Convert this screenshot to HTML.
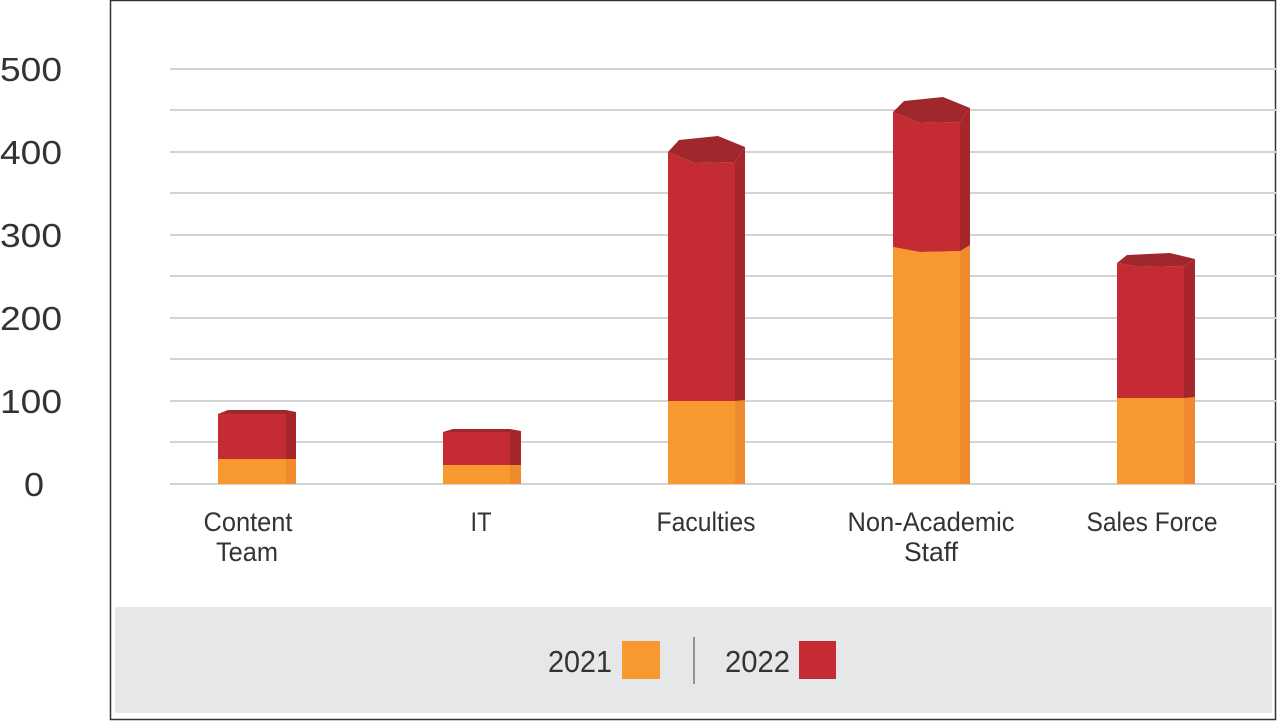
<!DOCTYPE html>
<html><head><meta charset="utf-8"><style>
html,body{margin:0;padding:0;background:#fff;}
svg{display:block;}
text{font-family:"Liberation Sans",sans-serif;fill:#333;}
</style></head><body>
<svg width="1277" height="723" viewBox="0 0 1277 723">
<rect x="110.5" y="0.5" width="1165" height="719" fill="#fff" stroke="#333" stroke-width="1.5"/>
<rect x="115" y="607" width="1157" height="106" fill="#e6e7e8"/>
<g stroke="#d4d4d4" stroke-width="2">
<line x1="170" x2="1277" y1="69" y2="69"/><line x1="170" x2="1277" y1="110" y2="110"/>
<line x1="170" x2="1277" y1="152" y2="152"/><line x1="170" x2="1277" y1="193" y2="193"/>
<line x1="170" x2="1277" y1="235" y2="235"/><line x1="170" x2="1277" y1="276" y2="276"/>
<line x1="170" x2="1277" y1="318" y2="318"/><line x1="170" x2="1277" y1="359" y2="359"/>
<line x1="170" x2="1277" y1="401" y2="401"/><line x1="170" x2="1277" y1="442" y2="442"/>
<line x1="170" x2="1277" y1="484" y2="484"/>
</g>
<g font-size="33" text-anchor="start">
<text x="0" y="81" textLength="62" lengthAdjust="spacingAndGlyphs">500</text><text x="0" y="164" textLength="62" lengthAdjust="spacingAndGlyphs">400</text><text x="0" y="247" textLength="62" lengthAdjust="spacingAndGlyphs">300</text>
<text x="0" y="330" textLength="62" lengthAdjust="spacingAndGlyphs">200</text><text x="0" y="413" textLength="62" lengthAdjust="spacingAndGlyphs">100</text><text x="24" y="496" textLength="20" lengthAdjust="spacingAndGlyphs">0</text>
</g>
<!-- Content Team -->
<rect x="218" y="459" width="68" height="25" fill="#f7992f"/><rect x="286" y="459" width="10" height="25" fill="#ef8a2e"/>
<rect x="218" y="414" width="68" height="45" fill="#c42b33"/><rect x="286" y="412" width="10" height="47" fill="#a6262b"/>
<polygon points="218,414 286,414 296,412 286,410 228,410" fill="#a0282c"/>
<!-- IT -->
<rect x="443" y="465" width="67" height="19" fill="#f7992f"/><rect x="510" y="465" width="11" height="19" fill="#ef8a2e"/>
<rect x="443" y="432" width="67" height="33" fill="#c42b33"/><rect x="510" y="431" width="11" height="34" fill="#a6262b"/>
<polygon points="443,432 510,432 521,431 510,429 453,429" fill="#a0282c"/>
<!-- Faculties -->
<rect x="668" y="401" width="67" height="83" fill="#f7992f"/><rect x="735" y="400" width="10" height="84" fill="#ef8a2e"/>
<polygon points="668,152 695,163 735,162 735,401 668,401" fill="#c42b33"/>
<polygon points="735,162 745,147 745,400 735,401" fill="#a6262b"/>
<polygon points="668,152 695,163 735,162 745,147 718,136 679,140" fill="#a0282c"/>
<!-- Non-Academic -->
<polygon points="893,247 920,252 960,251 960,484 893,484" fill="#f7992f"/><rect x="960" y="245" width="10" height="239" fill="#ef8a2e"/>
<polygon points="893,112 920,123 960,122 960,251 920,252 893,247" fill="#c42b33"/>
<polygon points="960,122 970,108 970,245 960,251" fill="#a6262b"/>
<polygon points="893,112 920,123 960,122 970,108 943,97 904,101" fill="#a0282c"/>
<!-- Sales Force -->
<rect x="1117" y="398" width="67" height="86" fill="#f7992f"/><rect x="1184" y="397" width="11" height="87" fill="#ef8a2e"/>
<polygon points="1117,263 1140,267 1184,266 1184,398 1117,398" fill="#c42b33"/>
<polygon points="1184,266 1195,259 1195,397 1184,398" fill="#a6262b"/>
<polygon points="1117,263 1140,267 1184,266 1195,259 1170,253 1127,255" fill="#a0282c"/>
<g font-size="27" text-anchor="middle">
<text x="248" y="531" textLength="89" lengthAdjust="spacingAndGlyphs">Content</text><text x="247" y="561" textLength="62" lengthAdjust="spacingAndGlyphs">Team</text>
<text x="481" y="531" textLength="21" lengthAdjust="spacingAndGlyphs">IT</text>
<text x="706" y="531" textLength="99" lengthAdjust="spacingAndGlyphs">Faculties</text>
<text x="931" y="531" textLength="167" lengthAdjust="spacingAndGlyphs">Non-Academic</text><text x="931" y="561" textLength="54" lengthAdjust="spacingAndGlyphs">Staff</text>
<text x="1152" y="531" textLength="131" lengthAdjust="spacingAndGlyphs">Sales Force</text>
</g>
<g font-size="31">
<text x="548" y="672" textLength="64" lengthAdjust="spacingAndGlyphs">2021</text><text x="725" y="672" textLength="65" lengthAdjust="spacingAndGlyphs">2022</text>
</g>
<rect x="622" y="641" width="38" height="38" fill="#f7992f"/>
<rect x="799" y="641" width="37" height="38" fill="#c42b33"/>
<line x1="694" x2="694" y1="637" y2="684" stroke="#777" stroke-width="1.5"/>
</svg>
</body></html>
